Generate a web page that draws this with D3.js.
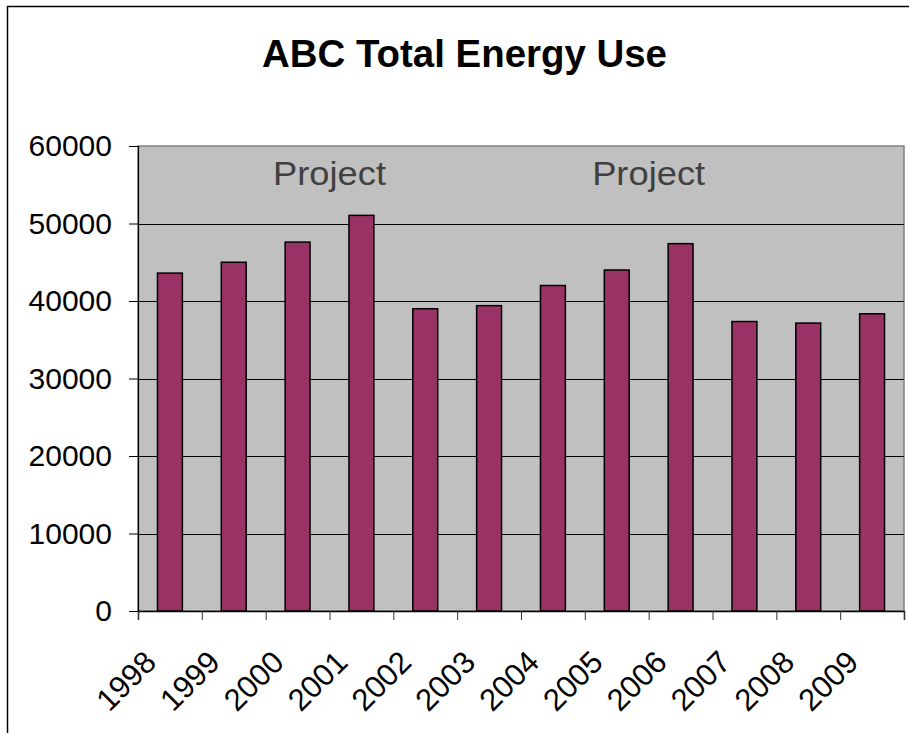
<!DOCTYPE html>
<html>
<head>
<meta charset="utf-8">
<script src="https://cdn.jsdelivr.net/npm/d3@7"></script>
<style>
  html, body { margin: 0; padding: 0; background: #ffffff; }
  svg { display: block; }
  text { font-family: "Liberation Sans", Arial, sans-serif; }
</style>
</head>
<body>
<svg id="chart" width="909" height="733"></svg>
<script>
const years = ["1998","1999","2000","2001","2002","2003","2004","2005","2006","2007","2008","2009"];
const energyUse = [43600, 45000, 47600, 51050, 39000, 39400, 42000, 44000, 47400, 37350, 37150, 38350];
const yTicks = [0, 10000, 20000, 30000, 40000, 50000, 60000];
const projectLabels = [
  { text: "Project", afterYear: "2000" },
  { text: "Project", afterYear: "2005" }
];
const titleText = "ABC Total Energy Use";

const svg = d3.select("#chart");
const plot = { left: 138, right: 904, top: 146, bottom: 611 };

// outer frame
svg.append("rect")
  .attr("x", 7.5).attr("y", 6.5)
  .attr("width", 1000).attr("height", 1000)
  .attr("fill", "none").attr("stroke", "#000").attr("stroke-width", 1.5);

// title
svg.append("text")
  .attr("x", 464.5).attr("y", 67)
  .attr("text-anchor", "middle")
  .attr("font-size", 39).attr("font-weight", "bold")
  .attr("textLength", 405).attr("lengthAdjust", "spacingAndGlyphs")
  .attr("fill", "#000")
  .text(titleText);

const x = d3.scaleBand().domain(years)
  .range([plot.left, plot.right])
  .paddingInner(0.61).paddingOuter(0.305);
const xCat = d3.scaleBand().domain(years).range([plot.left, plot.right]).padding(0);
const xEdge = d3.scaleLinear().domain([0, years.length]).range([plot.left, plot.right]);
const y = d3.scaleLinear().domain([0, 60000]).range([plot.bottom, plot.top]);

// plot background
svg.append("rect")
  .attr("x", plot.left).attr("y", plot.top)
  .attr("width", plot.right - plot.left).attr("height", plot.bottom - plot.top)
  .attr("fill", "#c0c0c0").attr("stroke", "#808080").attr("stroke-width", 1.5);

// gridlines
svg.append("g").selectAll("line")
  .data(yTicks.filter(t => t > 0 && t < 60000))
  .join("line")
  .attr("x1", plot.left).attr("x2", plot.right)
  .attr("y1", d => Math.round(y(d)) + 0.5).attr("y2", d => Math.round(y(d)) + 0.5)
  .attr("stroke", "#000").attr("stroke-width", 1);

// project labels
svg.append("g").selectAll("text")
  .data(projectLabels)
  .join("text")
  .attr("x", d => xCat(d.afterYear) + xCat.bandwidth())
  .attr("y", y(60000) + 39)
  .attr("text-anchor", "middle")
  .attr("font-size", 33)
  .attr("textLength", 113).attr("lengthAdjust", "spacingAndGlyphs")
  .attr("fill", "#404040")
  .text(d => d.text);

// bars
svg.append("g").selectAll("rect")
  .data(years.map((yr, i) => ({ yr, v: energyUse[i] })))
  .join("rect")
  .attr("x", d => x(d.yr))
  .attr("y", d => y(d.v))
  .attr("width", x.bandwidth())
  .attr("height", d => y(0) - y(d.v))
  .attr("fill", "#993366")
  .attr("stroke", "#000").attr("stroke-width", 1.5);

// y axis
const yAxis = svg.append("g")
  .attr("transform", `translate(${plot.left},0)`)
  .call(d3.axisLeft(y).tickValues(yTicks).tickFormat(d3.format("d")).tickSize(9).tickPadding(17));
yAxis.select(".domain").attr("stroke", "#000").attr("stroke-width", 1.2);
yAxis.selectAll(".tick line").attr("stroke", "#000");
yAxis.selectAll(".tick text")
  .attr("font-family", "Liberation Sans, Arial, sans-serif")
  .attr("font-size", 30).attr("fill", "#000");

// x axis (ticks at category boundaries)
const xAxis = svg.append("g")
  .attr("transform", `translate(0,${plot.bottom})`)
  .call(d3.axisBottom(xEdge).tickValues(d3.range(years.length + 1)).tickFormat("").tickSize(9));
xAxis.select(".domain").attr("stroke", "#000").attr("stroke-width", 1.5);
xAxis.selectAll(".tick line").attr("stroke", "#333");

// x labels rotated
svg.append("g").selectAll("text")
  .data(years)
  .join("text")
  .attr("transform", d => `translate(${xCat(d) + xCat.bandwidth() / 2 - 12},${plot.bottom + 53}) rotate(-45)`)
  .attr("text-anchor", "end")
  .attr("font-size", 31)
  .attr("fill", "#000")
  .text(d => d);
</script>
</body>
</html>
